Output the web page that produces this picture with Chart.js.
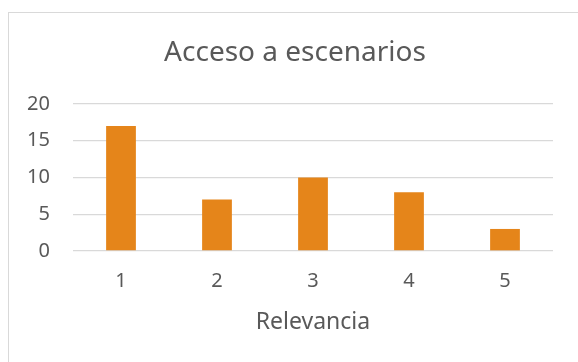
<!DOCTYPE html>
<html>
<head>
<meta charset="utf-8">
<script src="https://cdn.jsdelivr.net/npm/chart.js@4"></script>
<style>
    body { margin: 0; background: #fff; overflow: hidden; }
    #wrap { position: relative; width: 578px; height: 362px; }
    #frame { position: absolute; left: 8px; top: 12px; width: 572px; height: 360px; border: 1px solid #d9d9d9; box-sizing: border-box; }
    #myChart { position: absolute; left: 0; top: 0; }
</style>
</head>
<body>
<div id="wrap">
    <div id="frame"></div>
    <canvas id="myChart" width="578" height="362"></canvas>
</div>
<script>
var categories = ["1", "2", "3", "4", "5"];
var values = [17, 7, 10, 8, 3];
var yTicks = [0, 5, 10, 15, 20];

var textColor = "#595959";
var barColor = "#e5851a";

window.onload = () => {
    diagram();
};

// excel centres the title on the whole frame, not on the plot
var titleShift = {
    id: "titleShift",
    afterLayout(chart) {
        let t = chart.titleBlock;
        if (t) {
            t.left += 18.5;
            t.right += 18.5;
        }
    }
};

function diagram() {
    new Chart("myChart", {
        type: "bar",
        data: {
            labels: categories,
            datasets: [{
                label: "Acceso a escenarios",
                backgroundColor: barColor,
                data: values,
                categoryPercentage: 1,
                barPercentage: 0.31
            }]
        },
        options: {
            responsive: false,
            animation: false,
            layout: {
                padding: { top: 0, left: 0, right: 25, bottom: 28 }
            },
            plugins: {
                legend: { display: false },
                tooltip: { enabled: false },
                title: {
                    display: true,
                    text: "Acceso a escenarios",
                    color: textColor,
                    font: { family: "Noto Sans", size: 28, weight: "normal" },
                    padding: { top: 36, bottom: 34.4 }
                }
            },
            scales: {
                x: {
                    grid: { display: false, drawTicks: false },
                    border: { display: false },
                    ticks: {
                        color: textColor,
                        font: { family: "Noto Sans", size: 20, lineHeight: 1 },
                        padding: 20
                    },
                    title: {
                        display: true,
                        text: "Relevancia",
                        color: textColor,
                        font: { family: "Noto Sans", size: 23, lineHeight: 1 },
                        padding: { top: 0, bottom: 0 }
                    }
                },
                y: {
                    min: 0,
                    max: yTicks[yTicks.length - 1],
                    afterBuildTicks: (scale) => {
                        scale.ticks = yTicks.map(v => ({ value: v }));
                    },
                    afterFit: (scale) => {
                        scale.width = 73;
                    },
                    grid: { color: "#d9d9d9", lineWidth: 1.3, drawTicks: false },
                    border: { display: false },
                    ticks: {
                        color: textColor,
                        font: { family: "Noto Sans", size: 20 },
                        padding: 23
                    }
                }
            }
        },
        plugins: [titleShift]
    });
}
</script>
</body>
</html>
